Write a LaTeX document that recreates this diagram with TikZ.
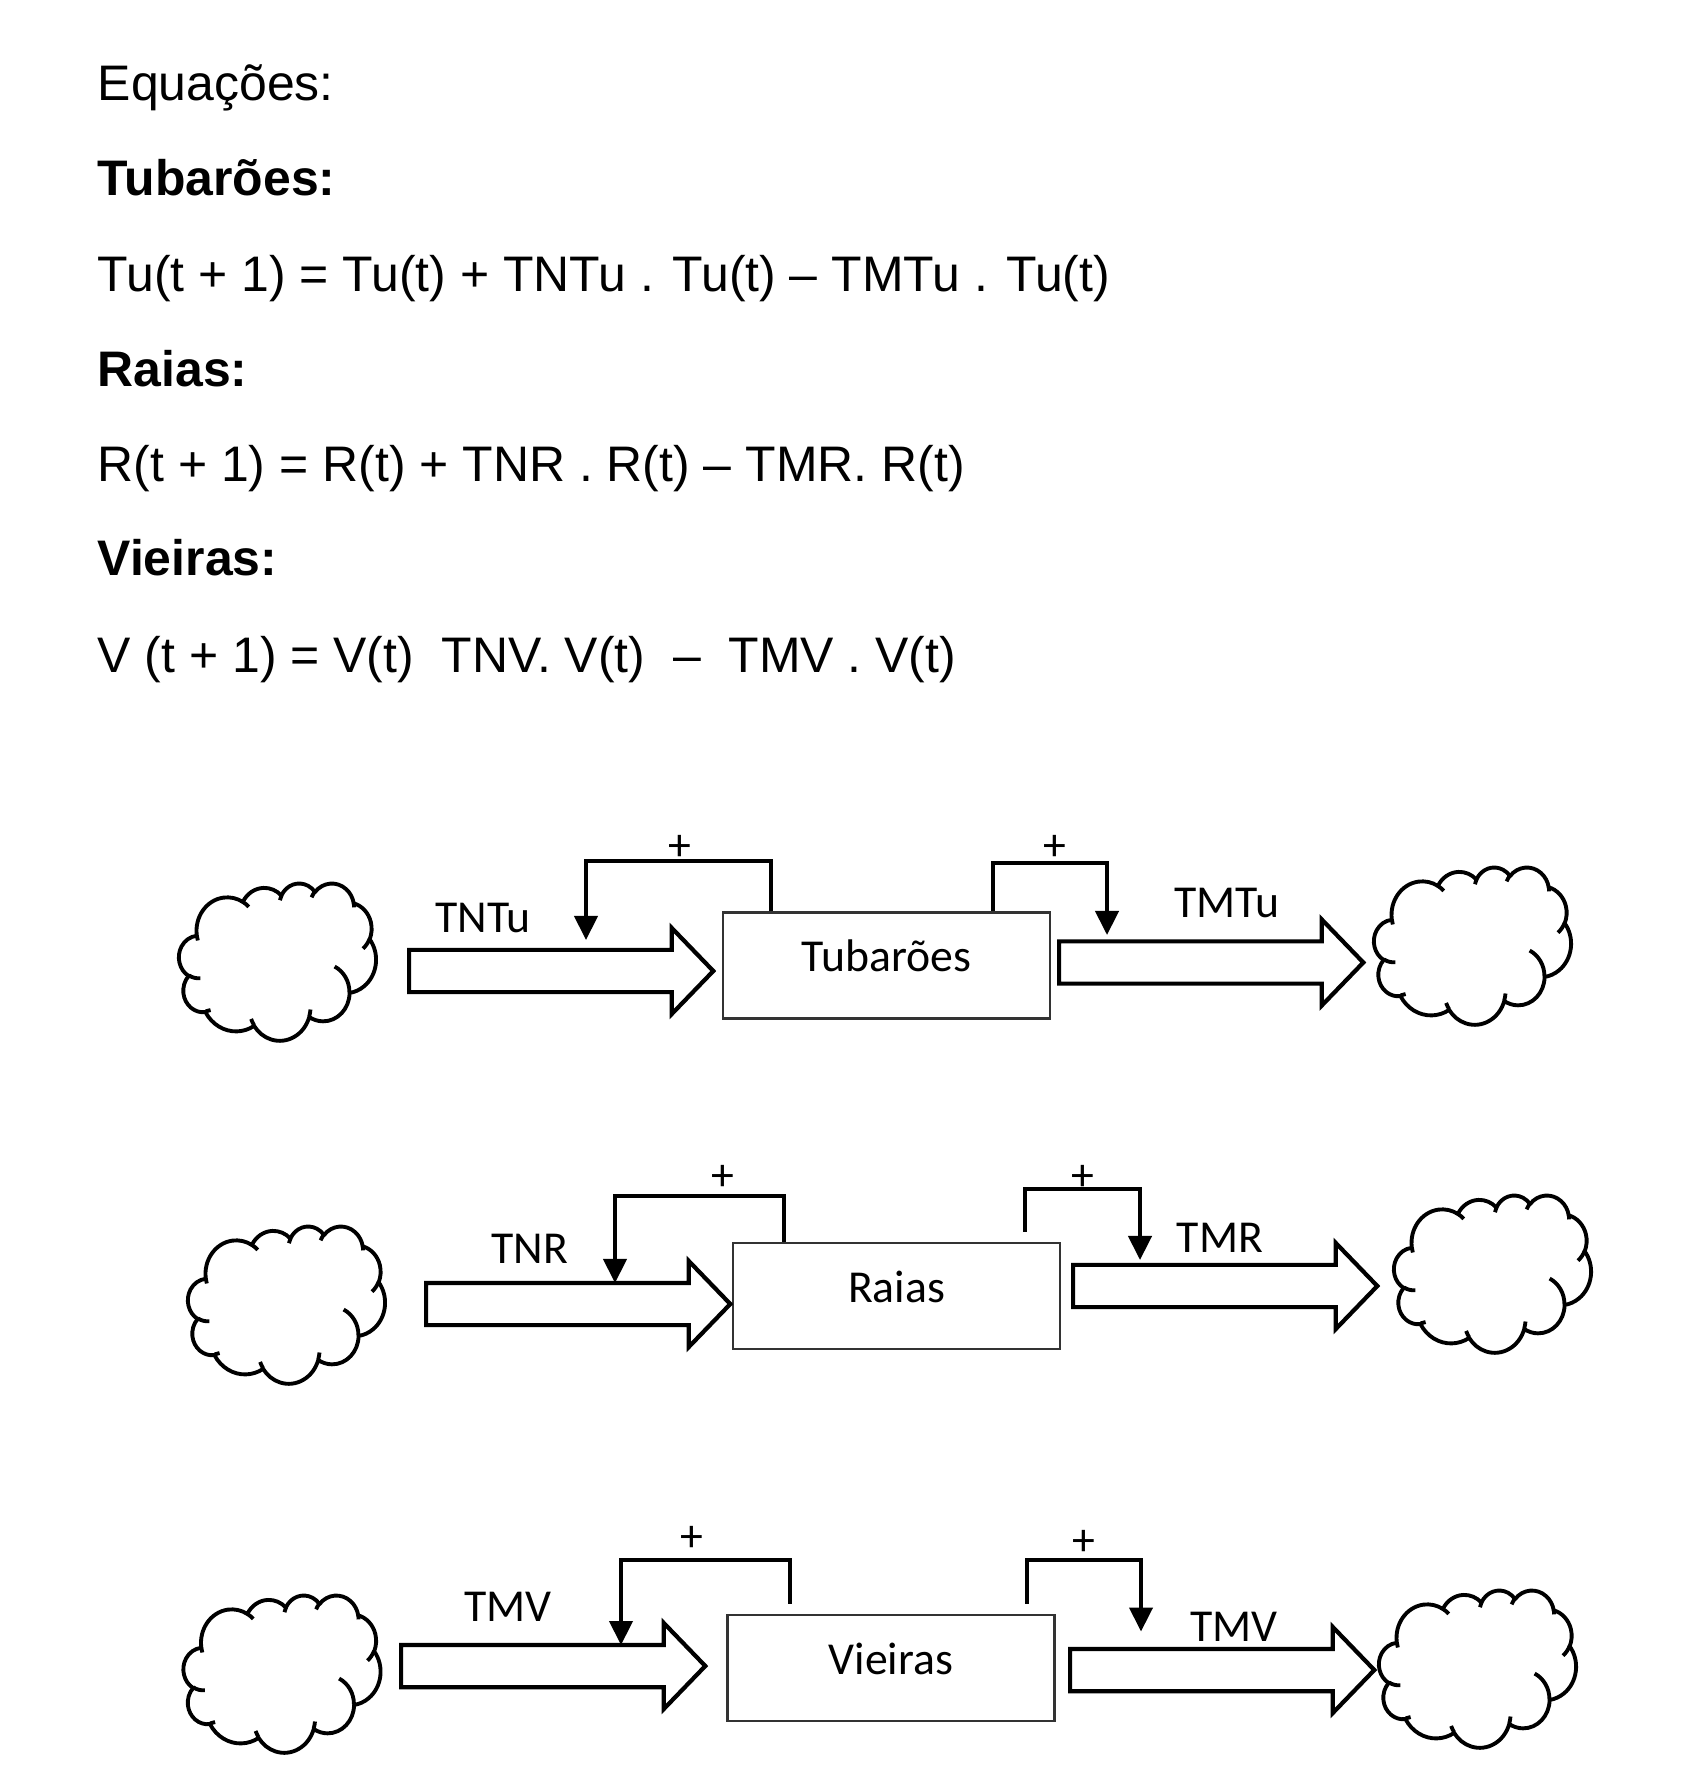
\documentclass[tikz,border=0pt]{standalone}
\usepackage{fontspec}
\setmainfont{Liberation Sans}
\newfontfamily\calibri{Carlito}
\usepackage{tikz}
\usetikzlibrary{arrows.meta}
\usetikzlibrary{calc}
\usetikzlibrary{shapes.arrows}
\tikzset{>={Triangle[width=0.23cm,length=0.24cm]}}
\tikzstyle{eqtext}=[anchor=base west,inner sep=0pt,font=\fontsize{14.2}{16}\selectfont]
\tikzstyle{eqhead}=[eqtext,font=\fontsize{14.2}{16}\selectfont\bfseries]
\tikzstyle{stock}=[draw=black!80,line width=0.7pt,minimum width=3.27cm,minimum height=1.06cm,
  inner sep=0pt,text height=9pt,text depth=5.5pt,font=\calibri\fontsize{13}{15}\selectfont]
\tikzstyle{flow}=[single arrow,draw,line width=1.2pt,inner sep=0pt,text height=0.19cm,text depth=0.19cm,
  single arrow head extend=0.22cm,single arrow tip angle=92,minimum height=3.04cm,anchor=tail]
\tikzstyle{fbline}=[->,line width=1.2pt]
\tikzstyle{lbl}=[font=\calibri\fontsize{13}{15}\selectfont,inner sep=0pt]
\tikzstyle{cloudline}=[line width=1.1pt,line join=round]
\tikzstyle{cloudsize}=[xscale=0.456,yscale=0.364]
% cloud outline in a 432 x 432 box, y pointing down
\tikzset{cloudpic/.pic={
  \draw[cloudline] (39,143.7)
    arc[start angle=-187.75,delta angle=128.1,x radius=67.53,y radius=91.9]
    arc[start angle=-152.02,delta angle=106.58,x radius=53.33,y radius=72.67]
    arc[start angle=-153.48,delta angle=116.14,x radius=43.65,y radius=59.45]
    arc[start angle=-139.73,delta angle=129.51,x radius=48.57,y radius=65.95]
    arc[start angle=-74.77,delta angle=97.99,x radius=53.33,y radius=72.73]
    arc[start angle=-37.54,delta angle=119.4,x radius=67.75,y radius=92.2]
    arc[start angle=0.46,delta angle=121.51,x radius=57.85,y radius=78.67]
    arc[start angle=16.85,delta angle=129.38,x radius=67.52,y radius=92.15]
    arc[start angle=58.98,delta angle=91.22,x radius=77.2,y radius=105.43]
    arc[start angle=-276.69,delta angle=139.81,x radius=43.6,y radius=59.18]
    arc[start angle=-239.64,delta angle=143.75,x radius=43.45,y radius=59.45]
    -- cycle;
  % small inner marks
  \draw[cloudline]
    (46.93,261.77) arc[start angle=85.54,delta angle=34.82,x radius=43.45,y radius=59.45]
    (69.28,348.99) arc[start angle=68.23,delta angle=15.08,x radius=43.6,y radius=59.18]
    (164.78,390.9) arc[start angle=146.23,delta angle=12.24,x radius=67.52,y radius=92.15]
    (288.27,347.51) arc[start angle=4.73,delta angle=12.12,x radius=67.52,y radius=92.15]
    (341.29,229.54) arc[start angle=-64.03,delta angle=64.49,x radius=57.85,y radius=78.67]
    (417.98,153.54) arc[start angle=23.22,delta angle=26.42,x radius=53.33,y radius=72.73]
    (383.24,54.26) arc[start angle=-10.22,delta angle=11.04,x radius=48.57,y radius=65.95]
    (290.78,39.52) arc[start angle=-156.29,delta angle=16.56,x radius=48.57,y radius=65.95]
    (221.41,47.2) arc[start angle=-167.72,delta angle=14.24,x radius=43.65,y radius=59.45]
    (140,51.92) arc[start angle=-59.65,delta angle=13.93,x radius=67.53,y radius=91.9]
    (41.27,157.89) arc[start angle=163.19,delta angle=9.06,x radius=67.53,y radius=91.9];
}}

\begin{document}
\begin{tikzpicture}[x=0.01cm,y=-0.01cm]
  \useasboundingbox (0,0) rectangle (1689,1777);

  % equations
  \node[eqtext] (eqs) at (97,101) {Equações:};
  \node[eqhead] (hTu) at (97,196) {Tubarões:};
  \node[eqtext] (eqTu) at (97,292) {Tu(t + 1) = Tu(t) + TNTu . Tu(t) – TMTu . Tu(t)};
  \node[eqhead] (hR) at (97,387) {Raias:};
  \node[eqtext] (eqR) at (97,482) {R(t + 1) = R(t) + TNR . R(t) – TMR. R(t)};
  \node[eqhead] (hV) at (97,576) {Vieiras:};
  \node[eqtext] (eqV) at (97,673) {V (t + 1) = V(t)\ \ TNV. V(t)\ \ –\ \ TMV . V(t)};

  % Tubaroes
  \pic[cloudsize] at (179,883) {cloudpic};
  \pic[cloudsize] at (1374,867) {cloudpic};
  \node[stock] (tu) at (886.5,965.5) {Tubarões};
  \node[flow] (inTu) at (407,971) {};
  \node[flow] (outTu) at (1057,962.5) {};
  \coordinate (tuIn) at (586,940);
  \coordinate (tuOut) at (1107,935);
  \draw[fbline] ($(tu.north west)+(49,0)$) -- ++(0,-50) -| (tuIn);
  \draw[fbline] ($(tu.north east)+(-58,0)$) -- ++(0,-48) -| (tuOut);
  \node[lbl] (pTuIn) at (680,848) {+};
  \node[lbl] (pTuOut) at (1055,848) {+};
  \node[lbl] (lTNTu) at (483,918) {TNTu};
  \node[lbl] (lTMTu) at (1227,903) {TMTu};

  % Raias
  \pic[cloudsize] at (188,1226) {cloudpic};
  \pic[cloudsize] at (1394,1195) {cloudpic};
  \node[stock] (r) at (896.5,1296) {Raias};
  \node[flow] (inR) at (424,1304) {};
  \node[flow] (outR) at (1071,1286) {};
  \coordinate (rIn) at (615,1283);
  \coordinate (rOut) at (1140,1260);
  \draw[fbline] ($(r.north west)+(52,0)$) -- ++(0,-46) -| (rIn);
  \draw[fbline] ($(r.north east)+(-36,-10)$) -- ++(0,-43) -| (rOut);
  \node[lbl] (pRIn) at (723,1178) {+};
  \node[lbl] (pROut) at (1083,1178) {+};
  \node[lbl] (lTNR) at (530,1249) {TNR};
  \node[lbl] (lTMR) at (1220,1238) {TMR};

  % Vieiras
  \pic[cloudsize] at (183.5,1595) {cloudpic};
  \pic[cloudsize] at (1379,1590) {cloudpic};
  \node[stock] (v) at (891,1668) {Vieiras};
  \node[flow] (inV) at (399,1666) {};
  \node[flow] (outV) at (1068,1670) {};
  \coordinate (vIn) at (621,1645);
  \coordinate (vOut) at (1141,1631.5);
  \draw[fbline] ($(v.north west)+(64,-10)$) -- ++(0,-44) -| (vIn);
  \draw[fbline] ($(v.north east)+(-28.5,-10)$) -- ++(0,-44) -| (vOut);
  \node[lbl] (pVIn) at (692,1539) {+};
  \node[lbl] (pVOut) at (1084,1543) {+};
  \node[lbl] (lTNV) at (508,1607) {TMV};
  \node[lbl] (lTMV) at (1234,1627) {TMV};
\end{tikzpicture}
\end{document}
